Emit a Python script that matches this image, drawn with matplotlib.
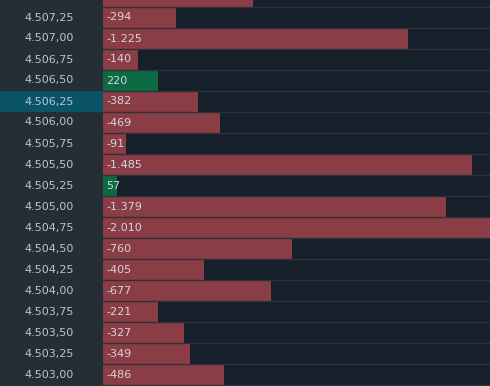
import matplotlib
matplotlib.use("Agg")
import matplotlib.pyplot as plt
from matplotlib.patches import Rectangle

prices = ["4.507,50", "4.507,25", "4.507,00", "4.506,75", "4.506,50", "4.506,25",
          "4.506,00", "4.505,75", "4.505,50", "4.505,25", "4.505,00", "4.504,75",
          "4.504,50", "4.504,25", "4.504,00", "4.503,75", "4.503,50", "4.503,25",
          "4.503,00"]
values = [-603, -294, -1225, -140, 220, -382, -469, -91, -1485, 57, -1379, -2010,
          -760, -405, -677, -221, -327, -349, -486]
labels = ["{:,}".format(v).replace(",", ".") for v in values]
highlight = "4.506,25"

W, H = 490, 386
fig = plt.figure(figsize=(W / 100, H / 100), dpi=100)
fig.patch.set_facecolor("#16202a")

left_w = 103 / W
ylim = ((H + 3.5) / 21, 3.5 / 21)
y_top_visible = ylim[1]

axl = fig.add_axes([0, 0, left_w, 1])
axl.set_xlim(0, 1)
axl.set_ylim(*ylim)
axl.axis("off")
axl.add_patch(Rectangle((0, 0), 1, 1, transform=axl.transAxes,
                        facecolor="#272d37", edgecolor="none", zorder=0))
n = len(prices)
ys = list(range(n))
for i, p in enumerate(prices):
    if p == highlight:
        axl.barh(i, 1, height=1.0, left=0, color="#0b5468", zorder=1)
    if i > y_top_visible:  # row whose centre is inside the visible window
        axl.text(74 / 103, i, p, ha="right", va="center", fontsize=8,
                 color="#b7c6d4", zorder=2)

axb = fig.add_axes([left_w, 0, 1 - left_w, 1])
xmax = (W - 103) / 0.2486
axb.set_xlim(0, xmax)
axb.set_ylim(*ylim)
axb.axis("off")
axb.add_patch(Rectangle((0, 0), 1, 1, transform=axb.transAxes,
                        facecolor="#16202a", edgecolor="none", zorder=0))
colors = ["#0c6b43" if v > 0 else "#8a3d45" for v in values]
axb.barh(ys, [abs(v) for v in values], height=1.0, left=0, color=colors, zorder=1)
for i in range(n):
    axb.axhline(i + 0.5, color="#2b323c", lw=1.0, zorder=2)
for i, t in enumerate(labels):
    if i > y_top_visible:
        axb.annotate(t, xy=(0, i), xytext=(2.2, 0), textcoords="offset points",
                     ha="left", va="center", fontsize=8, color="#d3d6dc", zorder=3,
                     annotation_clip=False)

fig.savefig("out.png", dpi=100, facecolor=fig.get_facecolor())
